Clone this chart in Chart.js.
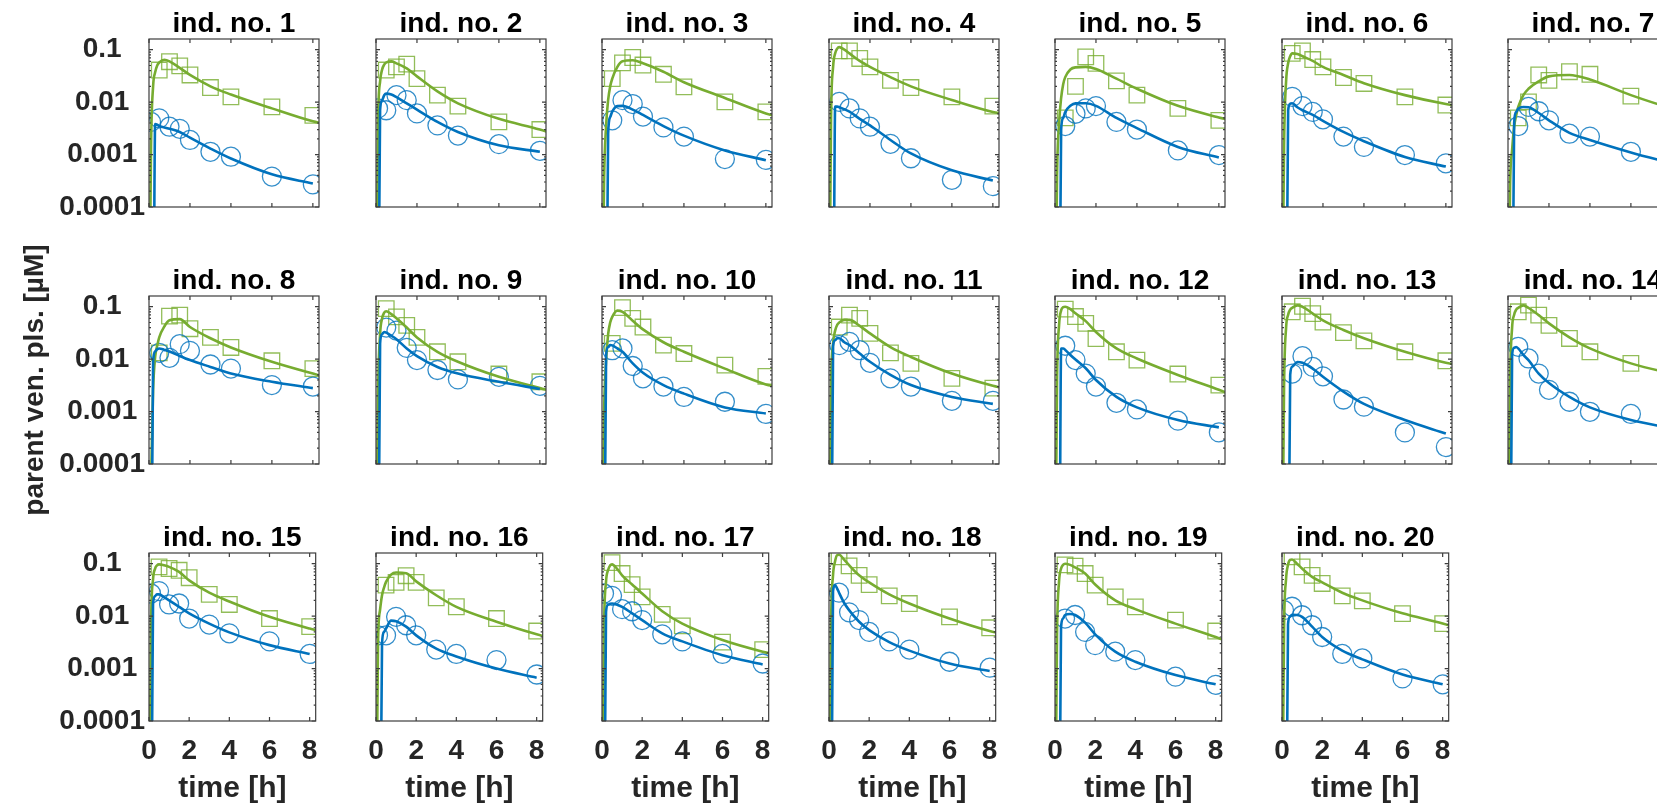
<!DOCTYPE html>
<html>
<head>
<meta charset="utf-8">
<script src="https://cdn.jsdelivr.net/npm/chart.js@4.4.1/dist/chart.umd.min.js"></script>
<style>
    html, body { margin: 0; padding: 0; background: #fff; overflow: hidden; }
    body { width: 1657px; height: 805px; position: relative; }
    canvas { position: absolute; }
</style>
</head>
<body>
<script>
const individuals = [1, 2, 3, 4, 5, 6, 7, 8, 9, 10, 11, 12, 13, 14, 15, 16, 17, 18, 19, 20];

// sampling times [h] of the measured concentrations
const obsTimes = [0.1, 0.5, 1, 1.5, 2, 3, 4, 6, 8];
// time grid of the simulated curves [h]
const fitTimes = [0, 0.1, 0.2, 0.3, 0.4, 0.5, 0.75, 1, 1.5, 2, 3, 4, 6, 8, 8.5];

const xTicks = [0, 2, 4, 6, 8];
const yTicks = [0.0001, 0.001, 0.01, 0.1];

// measured, squares (green)
const squareObs = [
    [null, 0.041, 0.059, 0.049, 0.033, 0.019, 0.0126, 0.0081, 0.0056],
    [null, 0.041, 0.047, 0.053, 0.028, 0.0136, 0.0084, 0.0042, 0.0030],
    [null, 0.028, 0.056, 0.071, 0.051, 0.034, 0.0196, 0.0101, 0.0065],
    [null, 0.095, 0.095, 0.068, 0.047, 0.026, 0.019, 0.0126, 0.0084],
    [null, 0.005, 0.02, 0.073, 0.055, 0.0255, 0.0136, 0.0076, 0.0045],
    [null, 0.085, 0.095, 0.065, 0.047, 0.0295, 0.0227, 0.0126, 0.0088],
    [null, 0.005, 0.0101, 0.033, 0.026, 0.038, 0.034, 0.013, 0.0070],
    [null, 0.0132, 0.066, 0.069, 0.038, 0.026, 0.0167, 0.0093, 0.0066],
    [null, 0.092, 0.064, 0.044, 0.026, 0.0138, 0.0089, 0.0052, 0.0037],
    [null, 0.020, 0.096, 0.060, 0.041, 0.0185, 0.0128, 0.0077, 0.0047],
    [null, 0.041, 0.069, 0.060, 0.031, 0.0132, 0.0083, 0.0043, 0.0028],
    [null, 0.09, 0.065, 0.048, 0.0247, 0.0138, 0.0096, 0.0052, 0.0032],
    [null, 0.080, 0.102, 0.074, 0.051, 0.032, 0.0223, 0.0138, 0.0093],
    [null, 0.080, 0.107, 0.069, 0.044, 0.0248, 0.0138, 0.0083, 0.0069],
    [null, 0.087, 0.081, 0.075, 0.054, 0.026, 0.0167, 0.009, 0.0063],
    [null, 0.039, 0.044, 0.059, 0.044, 0.0223, 0.0151, 0.009, 0.0052],
    [null, 0.105, 0.065, 0.040, 0.0233, 0.0108, 0.0065, 0.0032, 0.0023],
    [null, 0.135, 0.091, 0.060, 0.040, 0.0244, 0.0174, 0.0097, 0.006],
    [null, 0.095, 0.09, 0.065, 0.039, 0.0233, 0.015, 0.0084, 0.0052],
    [null, 0.135, 0.087, 0.060, 0.042, 0.0244, 0.0196, 0.0112, 0.0072]
];

// measured, circles (blue)
const circleObs = [
    [0.0042, 0.0049, 0.0034, 0.0031, 0.0019, 0.00113, 0.00091, 0.00038, 0.00027],
    [0.0076, 0.0070, 0.0136, 0.0109, 0.0061, 0.0036, 0.0023, 0.00158, 0.00118],
    [null, 0.0045, 0.0109, 0.0092, 0.0053, 0.0033, 0.0022, 0.00082, 0.00079],
    [null, 0.0101, 0.0076, 0.0049, 0.0034, 0.0016, 0.00085, 0.00033, 0.00025],
    [null, 0.0035, 0.006, 0.0076, 0.0084, 0.0042, 0.0030, 0.0012, 0.00098],
    [null, 0.0126, 0.0084, 0.0065, 0.0047, 0.0022, 0.0014, 0.00098, 0.00068],
    [null, 0.0035, 0.0081, 0.0067, 0.0045, 0.0025, 0.0022, 0.00113, 0.00068],
    [null, 0.0132, 0.0106, 0.0193, 0.0144, 0.0079, 0.0066, 0.0032, 0.003],
    [null, 0.040, 0.035, 0.0164, 0.0096, 0.0062, 0.0041, 0.0046, 0.0031],
    [null, 0.0148, 0.016, 0.0074, 0.0043, 0.003, 0.0019, 0.00154, 0.0009],
    [null, 0.0185, 0.0214, 0.0148, 0.0085, 0.0043, 0.003, 0.0016, 0.0016],
    [null, 0.018, 0.0096, 0.0053, 0.003, 0.00147, 0.0011, 0.00067, 0.0004],
    [null, 0.0053, 0.0114, 0.0071, 0.0047, 0.0017, 0.00124, 0.0004, 0.00021],
    [null, 0.0172, 0.0103, 0.0053, 0.0026, 0.00154, 0.00099, 0.0009, 0.00048],
    [0.027, 0.030, 0.0167, 0.0174, 0.009, 0.0069, 0.0047, 0.0033, 0.0019],
    [0.0043, 0.0043, 0.0097, 0.0067, 0.0043, 0.0023, 0.0019, 0.00145, 0.00077],
    [0.027, 0.0244, 0.0136, 0.0124, 0.0084, 0.0045, 0.0033, 0.0019, 0.00125],
    [null, 0.028, 0.0118, 0.0084, 0.005, 0.0033, 0.0023, 0.00135, 0.00104],
    [null, 0.009, 0.0105, 0.005, 0.0028, 0.0021, 0.00145, 0.0007, 0.00049],
    [0.013, 0.0151, 0.0104, 0.0067, 0.004, 0.0019, 0.00156, 0.00065, 0.0005]
];

// simulated, green curve
const greenFit = [
    [1e-7, 0.0015, 0.02, 0.037, 0.05, 0.057, 0.064, 0.06, 0.045, 0.033, 0.02, 0.014, 0.0076, 0.0043, 0.0039],
    [1e-7, 0.004, 0.025, 0.042, 0.052, 0.057, 0.06, 0.055, 0.044, 0.031, 0.016, 0.0095, 0.0048, 0.003, 0.0026],
    [1e-7, 0.0003, 0.0035, 0.011, 0.02, 0.028, 0.047, 0.06, 0.063, 0.055, 0.038, 0.024, 0.012, 0.0061, 0.0054],
    [1e-7, 0.005, 0.047, 0.085, 0.105, 0.112, 0.1, 0.085, 0.061, 0.047, 0.03, 0.02, 0.011, 0.0065, 0.006],
    [1e-7, 0.0004, 0.004, 0.012, 0.022, 0.03, 0.042, 0.046, 0.047, 0.043, 0.028, 0.018, 0.0085, 0.0051, 0.0046],
    [1e-7, 0.0015, 0.025, 0.055, 0.075, 0.085, 0.083, 0.075, 0.061, 0.047, 0.033, 0.023, 0.0136, 0.0092, 0.0086],
    [1e-7, 0.00024, 0.0012, 0.0034, 0.0056, 0.0081, 0.0136, 0.018, 0.025, 0.031, 0.033, 0.027, 0.0136, 0.0076, 0.0068],
    [1e-7, 0.00005, 0.0026, 0.011, 0.018, 0.026, 0.042, 0.055, 0.058, 0.041, 0.025, 0.0167, 0.0089, 0.0053, 0.0047],
    [1e-7, 0.002, 0.03, 0.06, 0.077, 0.082, 0.072, 0.06, 0.04, 0.026, 0.0138, 0.0089, 0.0046, 0.0028, 0.0025],
    [1e-7, 0.0008, 0.0095, 0.03, 0.05, 0.064, 0.084, 0.08, 0.054, 0.037, 0.021, 0.0138, 0.0066, 0.0033, 0.003],
    [1e-7, 0.003, 0.02, 0.035, 0.045, 0.05, 0.056, 0.056, 0.043, 0.031, 0.017, 0.011, 0.0053, 0.0031, 0.0028],
    [1e-7, 0.004, 0.045, 0.085, 0.098, 0.1, 0.09, 0.075, 0.053, 0.033, 0.016, 0.0103, 0.005, 0.0026, 0.0022],
    [1e-7, 0.003, 0.04, 0.07, 0.088, 0.095, 0.106, 0.1, 0.074, 0.055, 0.036, 0.025, 0.0138, 0.0085, 0.0078],
    [1e-7, 0.003, 0.04, 0.07, 0.088, 0.095, 0.106, 0.095, 0.069, 0.048, 0.026, 0.016, 0.0083, 0.0053, 0.0048],
    [1e-7, 0.006, 0.05, 0.08, 0.093, 0.097, 0.093, 0.087, 0.07, 0.048, 0.028, 0.019, 0.0097, 0.0058, 0.0052],
    [1e-7, 0.003, 0.013, 0.025, 0.035, 0.045, 0.062, 0.068, 0.066, 0.046, 0.025, 0.015, 0.0078, 0.0045, 0.004],
    [1e-7, 0.005, 0.045, 0.075, 0.092, 0.097, 0.08, 0.06, 0.04, 0.027, 0.0124, 0.0072, 0.0035, 0.0021, 0.0019],
    [1e-7, 0.006, 0.06, 0.11, 0.145, 0.148, 0.12, 0.094, 0.06, 0.044, 0.026, 0.0174, 0.009, 0.0052, 0.0047],
    [1e-7, 0.004, 0.045, 0.08, 0.095, 0.1, 0.095, 0.085, 0.065, 0.04, 0.02, 0.0136, 0.0072, 0.004, 0.0034],
    [1e-7, 0.005, 0.05, 0.095, 0.118, 0.12, 0.1, 0.081, 0.056, 0.044, 0.028, 0.02, 0.0113, 0.0072, 0.0063]
];

// simulated, blue curve (stops at 8 h)
const blueFit = [
    [1e-7, 1e-7, 1e-7, 0.0038, 0.0037, 0.0035, 0.0033, 0.0031, 0.0027, 0.0021, 0.0013, 0.00084, 0.00042, 0.00028, null],
    [1e-7, 1e-7, 0.007, 0.011, 0.0135, 0.0145, 0.014, 0.0125, 0.0095, 0.0072, 0.0042, 0.0027, 0.0015, 0.00113, null],
    [1e-7, 1e-7, 1e-7, 0.0025, 0.0052, 0.0066, 0.0084, 0.0085, 0.0072, 0.0057, 0.0035, 0.0023, 0.0012, 0.00078, null],
    [1e-7, 1e-7, 1e-7, 0.0082, 0.0082, 0.008, 0.0073, 0.0066, 0.0048, 0.0036, 0.0019, 0.00105, 0.0005, 0.00032, null],
    [1e-7, 1e-7, 1e-7, 0.003, 0.005, 0.0065, 0.0085, 0.0095, 0.0095, 0.0085, 0.005, 0.0032, 0.0014, 0.00088, null],
    [1e-7, 1e-7, 1e-7, 0.007, 0.0093, 0.0095, 0.008, 0.007, 0.0057, 0.0044, 0.0027, 0.0018, 0.0009, 0.00059, null],
    [1e-7, 1e-7, 1e-7, 0.004, 0.0065, 0.0075, 0.0081, 0.008, 0.0062, 0.0045, 0.0026, 0.0019, 0.0011, 0.00068, null],
    [1e-7, 1e-7, 0.009, 0.014, 0.0155, 0.016, 0.015, 0.014, 0.0115, 0.0096, 0.0071, 0.0053, 0.0037, 0.0028, null],
    [1e-7, 1e-7, 0.02, 0.03, 0.033, 0.032, 0.028, 0.024, 0.016, 0.0114, 0.0071, 0.0053, 0.0037, 0.0027, null],
    [1e-7, 1e-7, 0.012, 0.017, 0.0185, 0.0183, 0.016, 0.0138, 0.0083, 0.0055, 0.0032, 0.0022, 0.0012, 0.00092, null],
    [1e-7, 1e-7, 0.018, 0.023, 0.025, 0.025, 0.021, 0.0185, 0.0128, 0.0089, 0.005, 0.0032, 0.0019, 0.0014, null],
    [1e-7, 1e-7, 1e-7, 0.016, 0.016, 0.015, 0.012, 0.0098, 0.0067, 0.004, 0.0019, 0.0012, 0.00069, 0.0005, null],
    [1e-7, 1e-7, 1e-7, 1e-7, 0.005, 0.0072, 0.0088, 0.0085, 0.0066, 0.0046, 0.0024, 0.0014, 0.00069, 0.00038, null],
    [1e-7, 1e-7, 0.012, 0.0165, 0.017, 0.016, 0.012, 0.0096, 0.0053, 0.0035, 0.0019, 0.0012, 0.00069, 0.00048, null],
    [1e-7, 1e-7, 0.017, 0.024, 0.026, 0.026, 0.023, 0.02, 0.015, 0.0113, 0.0072, 0.0049, 0.0028, 0.0019, null],
    [1e-7, 1e-7, 1e-7, 0.003, 0.005, 0.0058, 0.0082, 0.008, 0.0063, 0.0043, 0.0024, 0.0017, 0.001, 0.00067, null],
    [1e-7, 1e-7, 0.012, 0.0165, 0.0172, 0.0174, 0.0165, 0.015, 0.0113, 0.0084, 0.0047, 0.0033, 0.0018, 0.0012, null],
    [1e-7, 1e-7, 0.03, 0.039, 0.034, 0.028, 0.018, 0.013, 0.0078, 0.0054, 0.0032, 0.0022, 0.00125, 0.0009, null],
    [1e-7, 1e-7, 1e-7, 0.006, 0.009, 0.0105, 0.011, 0.0105, 0.0075, 0.0045, 0.0021, 0.00135, 0.00075, 0.0005, null],
    [1e-7, 1e-7, 1e-7, 0.007, 0.0098, 0.0106, 0.0105, 0.0097, 0.0063, 0.004, 0.0022, 0.0015, 0.00077, 0.0005, null]
];

const X_MAX = 8.3;
const Y_MIN = 0.0001;
const Y_MAX = 0.16;

// panel geometry in page pixels
const BOX_W = 170, BOX_H = 168;
const FIRST_LEFT = 149, FIRST_TOP = 39;
const COL_STEP = 226.5, ROW_STEP = 257;
const PAD_L = 149, PAD_T = 70, PAD_R = 12, PAD_B = 84;
const PER_ROW = 7;

const BLUE = '#0072BD';
const GREEN = '#77AC30';
const INK = '#262626';

Chart.defaults.font.family = "'Liberation Sans', Arial, sans-serif";
Chart.defaults.font.weight = 'bold';
Chart.defaults.color = INK;

function toPoints(times, values) {
    let pts = [];
    for (let i = 0; i < times.length; i++) {
        if (values[i] !== null) {
            pts.push({x: times[i], y: values[i]});
        }
    }
    return pts;
}

function fitSet(data, colour) {
    return {
        data: data,
        borderColor: colour,
        borderWidth: 2.6,
        pointRadius: 0,
        cubicInterpolationMode: 'monotone',
        clip: 0
    }
}

function markerSet(data, colour, style, radius) {
    return {
        data: data,
        showLine: false,
        borderColor: colour,
        backgroundColor: 'rgba(0,0,0,0)',
        borderWidth: 1.3,
        pointStyle: style,
        pointRadius: radius,
        clip: 0
    }
}

// MATLAB-like box with inward ticks
const frame = {
    id: 'frame',
    afterDatasetsDraw(chart) {
        const ctx = chart.ctx;
        const a = chart.chartArea;
        const x = chart.scales.x;
        const y = chart.scales.y;
        ctx.save();
        ctx.strokeStyle = '#3c3c3c';
        ctx.lineWidth = 1.2;
        ctx.beginPath();
        xTicks.forEach(v => {
            const px = x.getPixelForValue(v);
            ctx.moveTo(px, a.bottom);
            ctx.lineTo(px, a.bottom - 4);
            ctx.moveTo(px, a.top);
            ctx.lineTo(px, a.top + 4);
        });
        yTicks.forEach(d => {
            for (let m = 1; m < 10; m++) {
                const v = d * m;
                if (v > Y_MAX) break;
                const py = y.getPixelForValue(v);
                const len = m === 1 ? 4 : 2;
                ctx.moveTo(a.left, py);
                ctx.lineTo(a.left + len, py);
                ctx.moveTo(a.right, py);
                ctx.lineTo(a.right - len, py);
            }
        });
        ctx.stroke();
        ctx.strokeRect(a.left, a.top, a.right - a.left, a.bottom - a.top);
        ctx.restore();
    }
};

function makePanel(i) {
    const col = i % PER_ROW;
    const row = Math.floor(i / PER_ROW);
    const firstCol = col === 0;
    const bottomRow = row === 2;

    const canvas = document.createElement('canvas');
    canvas.width = PAD_L + BOX_W + PAD_R;
    canvas.height = PAD_T + BOX_H + PAD_B;
    canvas.style.left = Math.round(FIRST_LEFT + col * COL_STEP - PAD_L) + 'px';
    canvas.style.top = Math.round(FIRST_TOP + row * ROW_STEP - PAD_T) + 'px';
    document.body.appendChild(canvas);

    new Chart(canvas.getContext('2d'), {
        type: 'line',
        data: {
            datasets: [
                fitSet(toPoints(fitTimes, blueFit[i]), BLUE),
                fitSet(toPoints(fitTimes, greenFit[i]), GREEN),
                markerSet(toPoints(obsTimes, circleObs[i]), 'rgba(0,114,189,0.8)', 'circle', 9.5),
                markerSet(toPoints(obsTimes, squareObs[i]), 'rgba(119,172,48,0.8)', 'rect', 11)
            ]
        },
        options: {
            responsive: false,
            animation: false,
            events: [],
            layout: {padding: {left: 0, top: 0, right: PAD_R, bottom: 0}, autoPadding: false},
            plugins: {
                legend: {display: false},
                tooltip: {enabled: false},
                title: {
                    display: true,
                    fullSize: false,
                    text: 'ind. no. ' + individuals[i],
                    color: '#000',
                    font: {size: 28, weight: 'bold', lineHeight: 1},
                    padding: {top: PAD_T - 29, bottom: 1}
                }
            },
            scales: {
                x: {
                    type: 'linear',
                    min: 0,
                    max: X_MAX,
                    afterBuildTicks: s => { s.ticks = xTicks.map(v => ({value: v})) },
                    afterFit: s => { s.height = PAD_B },
                    grid: {display: false, drawTicks: false},
                    border: {display: false},
                    ticks: {
                        display: bottomRow,
                        autoSkip: false,
                        maxRotation: 0,
                        padding: 13,
                        color: INK,
                        font: {size: 28, weight: 'bold'}
                    },
                    title: {
                        display: bottomRow,
                        text: 'time [h]',
                        color: INK,
                        font: {size: 30, weight: 'bold', lineHeight: 1},
                        padding: {top: 0, bottom: 1}
                    }
                },
                y: {
                    type: 'logarithmic',
                    min: Y_MIN,
                    max: Y_MAX,
                    afterBuildTicks: s => { s.ticks = yTicks.map(v => ({value: v, major: true})) },
                    afterFit: s => { s.width = PAD_L },
                    grid: {display: false, drawTicks: false},
                    border: {display: false},
                    ticks: {
                        display: firstCol,
                        autoSkip: false,
                        crossAlign: 'center',
                        padding: 4,
                        color: INK,
                        font: {size: 28, weight: 'bold'},
                        callback: v => String(v)
                    },
                    title: {
                        display: i === 7,
                        text: 'parent ven. pls. [µM]',
                        color: INK,
                        font: {size: 28, weight: 'bold', lineHeight: 1},
                        padding: {top: 21, bottom: 0}
                    }
                }
            }
        },
        plugins: [frame]
    });
}

for (let i = 0; i < individuals.length; i++) {
    makePanel(i);
}
</script>
</body>
</html>
